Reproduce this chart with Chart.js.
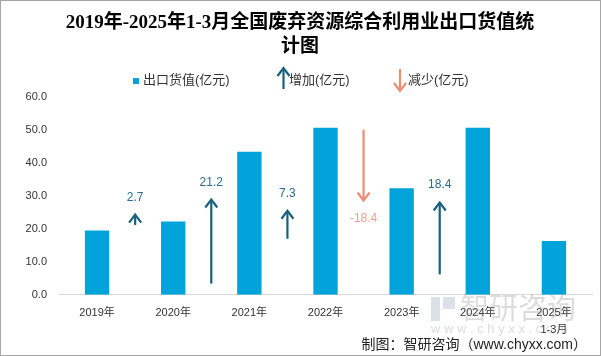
<!DOCTYPE html>
<html><head><meta charset="utf-8">
<script src="https://cdn.jsdelivr.net/npm/chart.js@4/dist/chart.umd.min.js"></script>
<style>
html,body{margin:0;padding:0;background:#fff}
#wrap{position:relative;width:601px;height:356px;box-sizing:border-box;border:1px solid #a6a6a6;overflow:hidden}
canvas{display:block}
</style></head><body>
<div id="wrap"><canvas id="c" width="599" height="354"></canvas></div>
<script>
const titleLines = ['2019年-2025年1-3月全国废弃资源综合利用业出口货值统', '计图'];
const categories = [['2019年'], ['2020年'], ['2021年'], ['2022年'], ['2023年'], ['2024年'], ['2025年', '1-3月']];
const exportValues = [19.5, 22.2, 43.4, 50.7, 32.3, 50.7, 16.3];
const changeValues = [2.7, 21.2, 7.3, -18.4, 18.4];
const arrowFrom = [21.2, 3.4, 17.0, 50.1, 6.2];
const arrowTo = [24.3, 28.9, 25.5, 28.6, 28.0];
const changeLabelAt = [29.5, 34.0, 30.8, 23.0, 33.5];
const legendLabels = ['出口货值(亿元)', '增加(亿元)', '减少(亿元)'];
const sourceText = '制图：智研咨询（www.chyxx.com）';

const SANS = '"Liberation Sans","Noto Sans CJK SC",sans-serif';
const BAR = '#00a3da', UP = '#17617f', DOWN = '#f08c74', UPTXT = '#2a6c96', DOWNTXT = '#f4a08a';

function arrow(ctx, x, y0, y1, col) {
  const dir = y1 < y0 ? 1 : -1; // 1 = up
  ctx.save();
  ctx.strokeStyle = col; ctx.lineWidth = 2.2; ctx.lineCap = 'butt';
  ctx.beginPath(); ctx.moveTo(x, y0); ctx.lineTo(x, y1 + dir * 1); ctx.stroke();
  ctx.beginPath();
  ctx.moveTo(x - 6, y1 + dir * 8); ctx.lineTo(x, y1); ctx.lineTo(x + 6, y1 + dir * 8);
  ctx.stroke();
  ctx.restore();
}

const extras = {
  id: 'extras',
  beforeDraw(chart) {
    const ctx = chart.ctx;
    ctx.save();
    ctx.font = 'bold 19px "Liberation Serif","Noto Sans CJK SC",serif';
    ctx.fillStyle = '#000'; ctx.textAlign = 'center'; ctx.textBaseline = 'middle';
    ctx.fillText(titleLines[0], 299, 22);
    ctx.fillText(titleLines[1], 299, 46);
    ctx.restore();
  },
  afterDatasetsDraw(chart) {
    const { ctx, scales: { x, y } } = chart;
    changeValues.forEach((v, i) => {
      const px = (x.getPixelForValue(i) + x.getPixelForValue(i + 1)) / 2;
      const up = v >= 0;
      arrow(ctx, px, y.getPixelForValue(arrowFrom[i]), y.getPixelForValue(arrowTo[i]), up ? UP : DOWN);
      ctx.save();
      ctx.font = '12px ' + SANS;
      ctx.fillStyle = up ? UPTXT : DOWNTXT;
      ctx.textAlign = 'center'; ctx.textBaseline = 'middle';
      ctx.fillText(v.toFixed(1), px, y.getPixelForValue(changeLabelAt[i]));
      ctx.restore();
    });
  },
  afterDraw(chart) {
    const ctx = chart.ctx;
    ctx.save();
    // legend
    ctx.font = '13px ' + SANS; ctx.textBaseline = 'middle'; ctx.textAlign = 'left';
    ctx.fillStyle = BAR; ctx.fillRect(132, 77, 6, 6);
    ctx.fillStyle = '#333'; ctx.fillText(legendLabels[0], 142, 79);
    arrow(ctx, 282.5, 88, 67, UP);
    ctx.fillStyle = '#333'; ctx.fillText(legendLabels[1], 288, 79);
    arrow(ctx, 399, 68, 90, DOWN);
    ctx.fillStyle = '#333'; ctx.fillText(legendLabels[2], 407, 79);
    // watermark
    ctx.globalAlpha = 0.3;
    ctx.fillStyle = '#8a9bb0';
    ctx.fillRect(430, 296, 9, 24);
    ctx.fillRect(442, 296, 12, 12);
    ctx.font = '29px "Noto Sans CJK SC",sans-serif';
    ctx.fillStyle = '#8a8a8a';
    ctx.fillText('智研咨询', 459, 307);
    ctx.font = '13px ' + SANS;
    ctx.fillText('w w w . c h y x x . c o m', 430, 328);
    ctx.globalAlpha = 1;
    // source
    ctx.font = '14px ' + SANS; ctx.fillStyle = '#222'; ctx.textAlign = 'right';
    ctx.fillText(sourceText, 586, 344);
    ctx.restore();
  }
};

new Chart(document.getElementById('c'), {
  type: 'bar',
  data: {
    labels: categories,
    datasets: [{ label: legendLabels[0], data: exportValues, backgroundColor: BAR, barPercentage: 0.8, categoryPercentage: 0.4 }]
  },
  options: {
    responsive: false, animation: false,
    layout: { padding: { left: 24, right: 8, top: 96, bottom: 7 } },
    plugins: { legend: { display: false }, tooltip: { enabled: false }, title: { display: false } },
    scales: {
      x: {
        grid: { display: false, drawTicks: false },
        border: { display: true, color: '#d9d9d9', width: 1 },
        ticks: { color: '#333', font: { family: SANS, size: 11, lineHeight: 1.6 }, padding: 9, maxRotation: 0 }
      },
      y: {
        min: 0, max: 60,
        afterFit: s => { s.width = 34; },
        grid: { display: false, drawTicks: false },
        border: { display: false },
        ticks: { stepSize: 10, color: '#333', font: { family: SANS, size: 11 }, padding: 12, callback: v => v.toFixed(1) }
      }
    }
  },
  plugins: [extras]
});
</script>
</body></html>
